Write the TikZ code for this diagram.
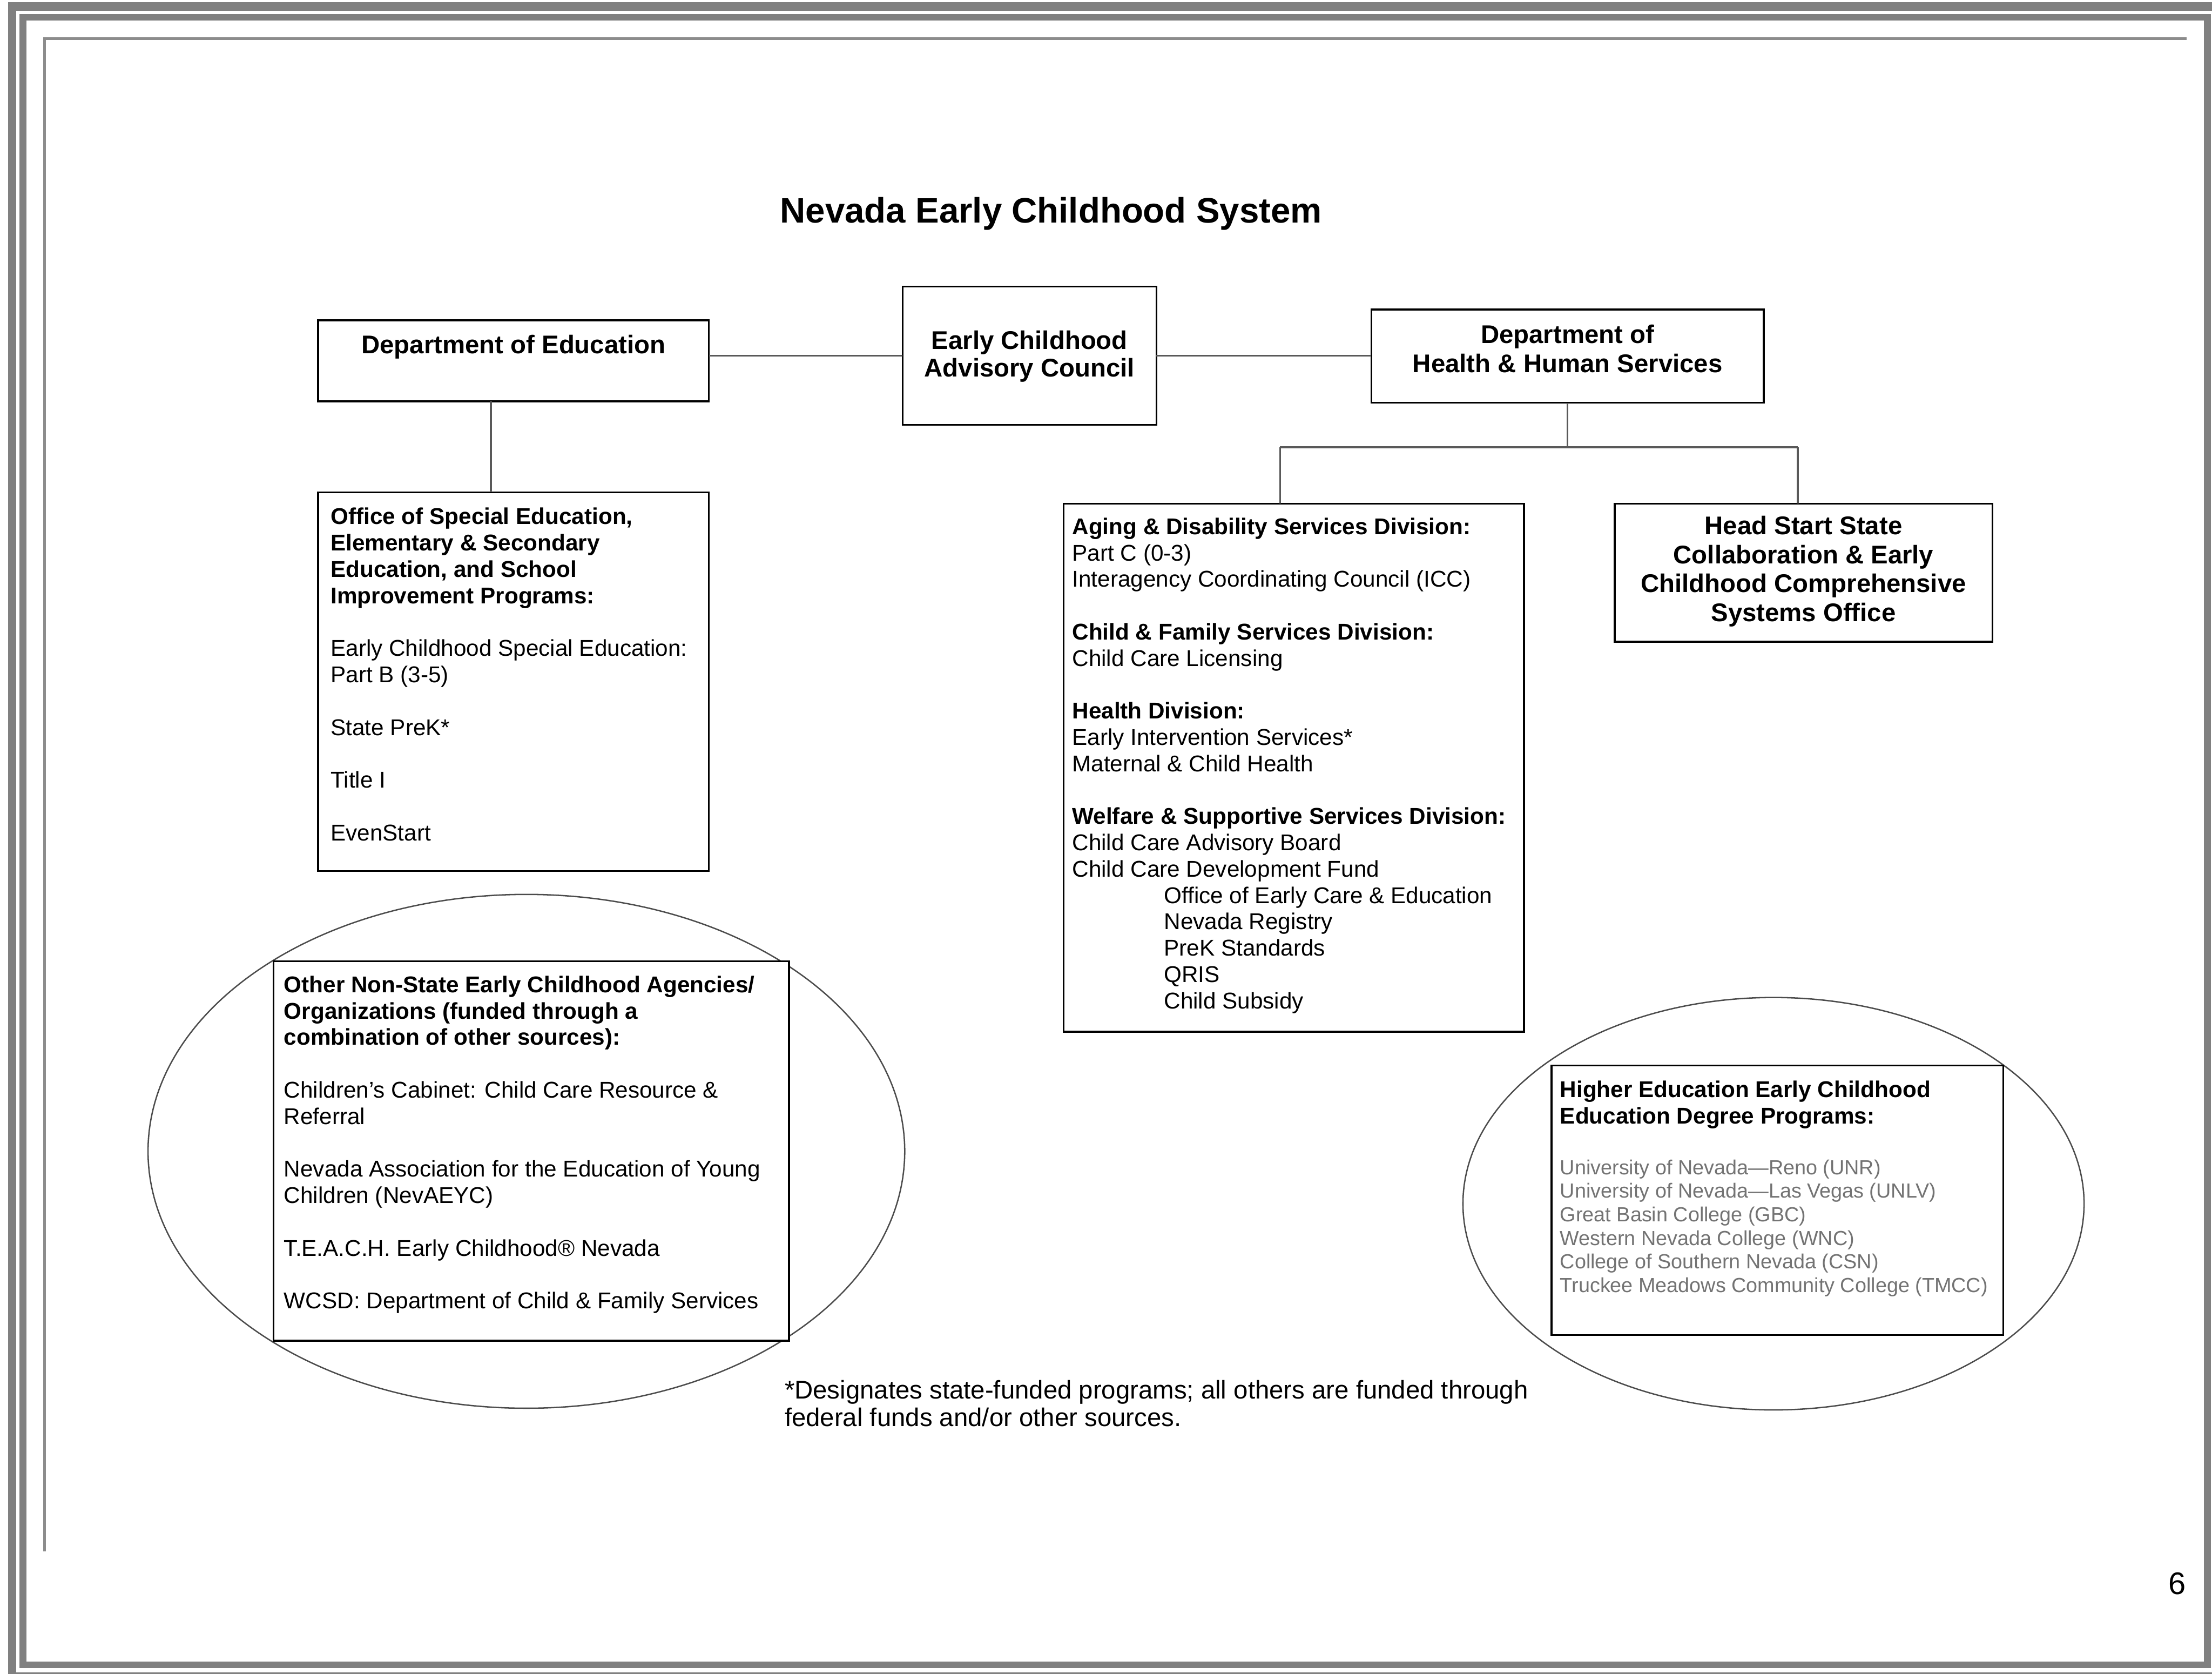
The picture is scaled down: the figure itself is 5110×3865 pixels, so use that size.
\documentclass[tikz,border=0pt]{standalone}
\usepackage{fontspec}
\setmainfont{Liberation Sans}
\usetikzlibrary{shapes.geometric}

\newcommand\boxL[5]{\parbox[c][#2][t]{#1}{\vspace*{#3}\hspace*{#4}\parbox[t]{\dimexpr#1-#4\relax}{\raggedright #5}}}
\newcommand\boxC[4]{\parbox[c][#2][t]{#1}{\centering\vspace*{#3}#4}}
\newcommand\hfont{\fontsize{16.8pt}{19pt}\selectfont\bfseries}
\newcommand\bfont{\fontsize{15pt}{17.3pt}\selectfont}
\newcommand\ufont{\fontsize{13.4pt}{15.5pt}\selectfont}
\newcommand\nfont{\fontsize{16.8pt}{18.2pt}\selectfont}

\begin{document}
\begin{tikzpicture}[x=0.01cm,y=-0.01cm,
  orgbox/.style={draw=black,line width=1.2pt,fill=white,inner sep=0pt,outer sep=0pt,anchor=north west},
  link/.style={draw=black!65,line width=1.2pt},
  ring/.style={ellipse,draw=black!70,line width=0.9pt,inner sep=0pt},
  bandA/.style={draw=black!50,line width=0.19cm},
  bandB/.style={draw=black!50,line width=0.16cm},
  rim/.style={draw=black!45,line width=0.06cm}]
\useasboundingbox (0,0) rectangle (5110,3865);
% page frame
\draw[bandA] (28,3880) -- (28,15) -- (5125,15);
\draw[bandA] (28,3872) -- (5125,3872);
\draw[bandB] (53,40) rectangle (5099,3845);
\draw[rim] (103,3583) -- (103,89) -- (5051,89);

% title
\node[font=\fontsize{23.2pt}{27pt}\selectfont\bfseries, anchor=base] (title) at (2428,515) {Nevada Early Childhood System};

% ellipses
\node[ring, minimum width=17.47cm, minimum height=11.86cm] (ovalL) at (1216,2659) {};
\node[ring, minimum width=14.34cm, minimum height=9.52cm] (ovalR) at (4097,2780) {};

% top row
\node[orgbox] (deped) at (735,740) {\boxC{9.02cm}{1.87cm}{0.34cm}{\hfont Department of Education}};
\node[orgbox] (ecac) at (2085,662) {\boxC{5.86cm}{3.19cm}{1.02cm}{\fontsize{16.8pt}{18pt}\selectfont\bfseries Early Childhood\\Advisory Council}};
\node[orgbox] (dhhs) at (3168,715) {\boxC{9.06cm}{2.15cm}{0.35cm}{\hfont Department of\\Health \& Human Services}};

% education office
\node[orgbox] (office) at (735,1137) {\boxL{9.02cm}{8.74cm}{0.36cm}{0.29cm}{\bfont
{\bfseries Office of Special Education,\\Elementary \& Secondary\\Education, and School\\Improvement Programs:}\\[\baselineskip]
Early Childhood Special Education:\\Part B (3-5)\\[\baselineskip]
State PreK*\\[\baselineskip]
Title I\\[\baselineskip]
EvenStart}};

% DHHS divisions
\node[orgbox] (aging) at (2457,1163) {\boxL{10.63cm}{12.19cm}{0.33cm}{0.20cm}{\bfont
\textbf{Aging \& Disability Services Division:}\\Part C (0-3)\\Interagency Coordinating Council (ICC)\\[\baselineskip]
\textbf{Child \& Family Services Division:}\\Child Care Licensing\\[\baselineskip]
\textbf{Health Division:}\\Early Intervention Services*\\Maternal \& Child Health\\[\baselineskip]
\textbf{Welfare \& Supportive Services Division:}\\Child Care Advisory Board\\Child Care Development Fund\\
\hspace*{2.12cm}Office of Early Care \& Education\\
\hspace*{2.12cm}Nevada Registry\\
\hspace*{2.12cm}PreK Standards\\
\hspace*{2.12cm}QRIS\\
\hspace*{2.12cm}Child Subsidy}};

\node[orgbox] (hs) at (3730,1163) {\boxC{8.72cm}{3.19cm}{0.29cm}{\hfont Head Start State\\Collaboration \& Early\\Childhood Comprehensive\\Systems Office}};

% non-state box
\node[orgbox] (other) at (632,2220) {\boxL{11.90cm}{8.76cm}{0.34cm}{0.24cm}{\bfont
\textbf{Other Non-State Early Childhood Agencies/\\Organizations (funded through a\\combination of other sources):}\\[\baselineskip]
Children's Cabinet: Child Care Resource \&\\Referral\\[\baselineskip]
Nevada Association for the Education of Young\\Children (NevAEYC)\\[\baselineskip]
T.E.A.C.H. Early Childhood\textregistered{} Nevada\\[\baselineskip]
WCSD: Department of Child \& Family Services}};

% higher education box
\node[orgbox] (higher) at (3584,2461) {\boxL{10.43cm}{6.22cm}{0.35cm}{0.20cm}{\bfont
\textbf{Higher Education Early Childhood\\Education Degree Programs:}\par
\vspace{17.8pt}\ufont\leavevmode\color{black!55}%
University of Nevada—Reno (UNR)\\
University of Nevada—Las Vegas (UNLV)\\
Great Basin College (GBC)\\
Western Nevada College (WNC)\\
College of Southern Nevada (CSN)\\
Truckee Meadows Community College (TMCC)}};

% footnote and page number
\node[anchor=north west, inner sep=0pt, align=left, font=\nfont] (note) at (1812,3187) {*Designates state-funded programs; all others are funded through\\federal funds and/or other sources.};
\node[font=\fontsize{20.5pt}{24pt}\selectfont, anchor=base] (pg) at (5029,3682) {6};

% connectors
\coordinate (edx) at (1134,0);
\coordinate (busL) at (2957,1033);
\coordinate (busR) at (4153,1033);
\draw[link] (deped.east |- ecac.west) -- (ecac.west);
\draw[link] (ecac.east) -- (ecac.east -| dhhs.west);
\draw[link] (deped.south -| edx) -- (office.north -| edx);
\draw[link] (dhhs.south) -- (dhhs.south |- busL);
\draw[link] (busL) -- (busR);
\draw[link] (busL) -- (busL |- aging.north);
\draw[link] (busR) -- (busR |- hs.north);
\end{tikzpicture}
\end{document}
